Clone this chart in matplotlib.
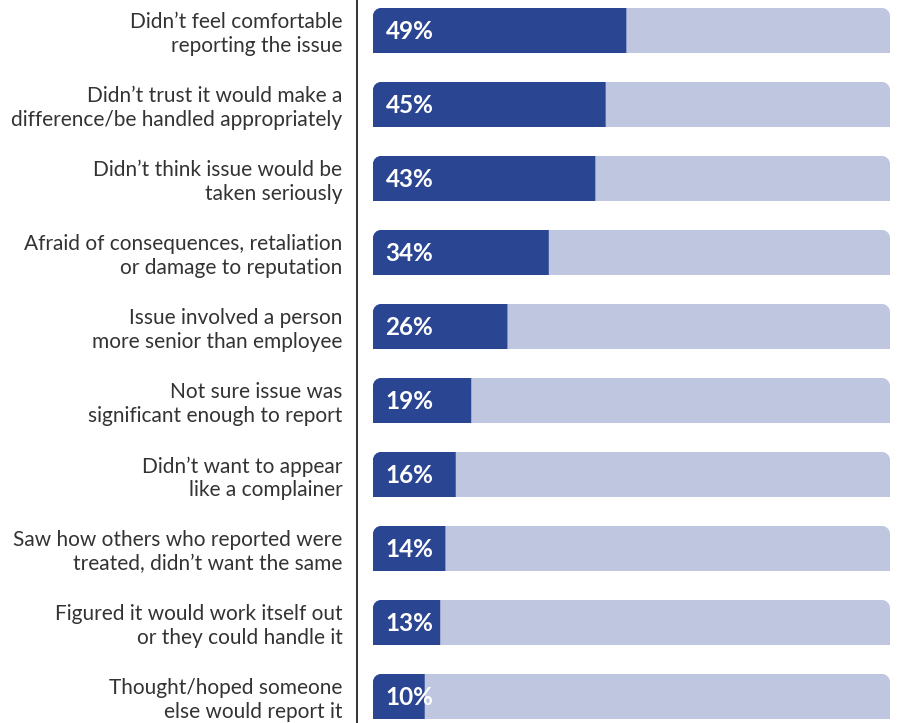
import matplotlib
matplotlib.use("Agg")
import matplotlib.pyplot as plt
from matplotlib.path import Path
from matplotlib.patches import PathPatch
from matplotlib.lines import Line2D

# Reasons for not reporting an issue, top to bottom
reasons = [
    "Didn\u2019t feel comfortable\nreporting the issue",
    "Didn\u2019t trust it would make a\ndifference/be handled appropriately",
    "Didn\u2019t think issue would be\ntaken seriously",
    "Afraid of consequences, retaliation\nor damage to reputation",
    "Issue involved a person\nmore senior than employee",
    "Not sure issue was\nsignificant enough to report",
    "Didn\u2019t want to appear\nlike a complainer",
    "Saw how others who reported were\ntreated, didn\u2019t want the same",
    "Figured it would work itself out\nor they could handle it",
    "Thought/hoped someone\nelse would report it",
]
shares = [49, 45, 43, 34, 26, 19, 16, 14, 13, 10]

DARK = "#2a4592"
TRACK = "#bfc7e0"
INK = "#333333"

W, H = 898, 723
BAR_LEFT, BAR_RIGHT = 373, 890
PITCH = 74.0      # px between bar centres
FIRST_CENTER = 30.5
BAR_H = 45 / PITCH
RADIUS_PX = 8

plt.rcParams["font.family"] = ["Lato", "DejaVu Sans"]

fig = plt.figure(figsize=(W / 100, H / 100), dpi=100)
ax = fig.add_axes([BAR_LEFT / W, 0, (BAR_RIGHT - BAR_LEFT) / W, 1])
ax.set_xlim(0, 100)
ax.set_ylim((H - FIRST_CENTER) / PITCH, -FIRST_CENTER / PITCH)

px_x = (BAR_RIGHT - BAR_LEFT) / 100.0
rx = RADIUS_PX / px_x
ry = RADIUS_PX / PITCH
k = 0.5523


def top_rounded(x0, x1, yc, round_left, round_right):
    """Bar outline with optional rounded top corners (y axis inverted)."""
    top, bot = yc - BAR_H / 2, yc + BAR_H / 2
    verts, codes = [(x0, bot)], [Path.MOVETO]
    if round_left:
        verts += [(x0, top + ry), (x0, top + ry * (1 - k)), (x0 + rx * (1 - k), top), (x0 + rx, top)]
        codes += [Path.LINETO, Path.CURVE4, Path.CURVE4, Path.CURVE4]
    else:
        verts.append((x0, top))
        codes.append(Path.LINETO)
    if round_right:
        verts += [(x1 - rx, top), (x1 - rx * (1 - k), top), (x1, top + ry * (1 - k)), (x1, top + ry)]
        codes += [Path.LINETO, Path.CURVE4, Path.CURVE4, Path.CURVE4]
    else:
        verts.append((x1, top))
        codes.append(Path.LINETO)
    verts += [(x1, bot), (x0, bot)]
    codes += [Path.LINETO, Path.CLOSEPOLY]
    return Path(verts, codes)


for i, v in enumerate(shares):
    ax.add_patch(PathPatch(top_rounded(0, 100, i, True, True), facecolor=TRACK,
                           edgecolor="none", zorder=1))
    ax.add_patch(PathPatch(top_rounded(0, v, i, True, False), facecolor=DARK,
                           edgecolor="none", zorder=2))
    ax.text(2.4, i + 0.02, f"{v}%", color="white", fontsize=17.5, fontweight="bold",
            ha="left", va="center", zorder=3)

ax.set_yticks(range(len(reasons)), reasons)
ax.tick_params(axis="y", length=0, pad=22, labelsize=15, labelcolor=INK)
ax.set_xticks([])
for s in ax.spines.values():
    s.set_visible(False)
for lab in ax.get_yticklabels():
    lab.set_linespacing(1.2)

fig.add_artist(Line2D([357 / W, 357 / W], [0, 1], color=INK, linewidth=1.4,
                      transform=fig.transFigure))

fig.savefig("out.png", dpi=100)
